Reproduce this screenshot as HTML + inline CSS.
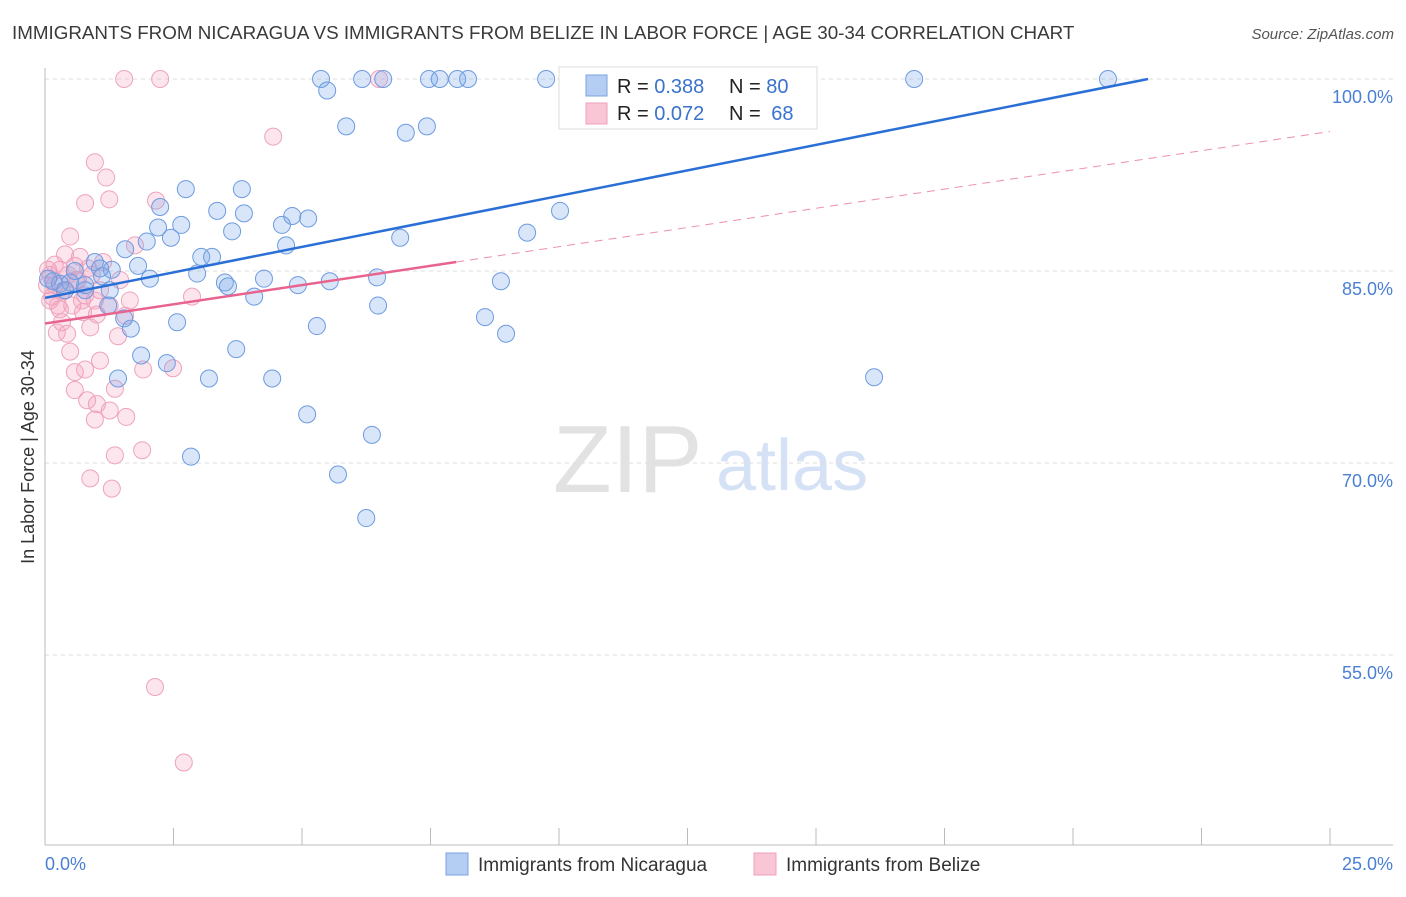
<!DOCTYPE html>
<html><head><meta charset="utf-8"><style>
body{margin:0;background:#fff;font-family:"Liberation Sans",sans-serif}
svg text{font-family:"Liberation Sans",sans-serif}
</style></head><body>
<svg id="c" width="1406" height="892" xmlns="http://www.w3.org/2000/svg">
<text x="12" y="39" font-size="18.8" fill="#3a3a3a">IMMIGRANTS FROM NICARAGUA VS IMMIGRANTS FROM BELIZE IN LABOR FORCE | AGE 30-34 CORRELATION CHART</text>
<text x="1394" y="39" font-size="15" fill="#555" text-anchor="end" font-style="italic">Source: ZipAtlas.com</text>
<text transform="translate(34,457) rotate(-90)" font-size="18" fill="#333" text-anchor="middle">In Labor Force | Age 30-34</text>
<g>
<text x="553" y="492" font-size="96" fill="#e2e2e2" font-family="Liberation Serif, serif">ZIP</text>
<text x="716" y="490" font-size="72" fill="#d5e2f5">atlas</text>
</g>
<g id="grid"></g><g id="axes"></g><g id="marks"></g>
<g>
<rect x="559" y="67" width="258" height="62" fill="#fff" stroke="#ddd"/>
<rect x="586" y="75" width="21" height="21" fill="#b4cdf2" stroke="#7aa3e0"/>
<rect x="586" y="103" width="21" height="21" fill="#f9c6d6" stroke="#eea0bb"/>
<text x="617" y="93" font-size="20" fill="#222">R = <tspan fill="#3a72cc">0.388</tspan></text>
<text x="729" y="93" font-size="20" fill="#222">N = <tspan fill="#3a72cc">80</tspan></text>
<text x="617" y="120" font-size="20" fill="#222">R = <tspan fill="#3a72cc">0.072</tspan></text>
<text x="729" y="120" font-size="20" fill="#222">N = <tspan fill="#3a72cc" dx="5">68</tspan></text>
</g>
<g>
<rect x="446" y="853" width="22" height="22" fill="#b4cdf2" stroke="#7aa3e0"/>
<text x="478" y="871" font-size="19" fill="#333">Immigrants from Nicaragua</text>
<rect x="754" y="853" width="22" height="22" fill="#f9c6d6" stroke="#eea0bb"/>
<text x="786" y="871" font-size="19" fill="#333">Immigrants from Belize</text>
</g>
</svg>
<script>
const yTicks=[100,85,70,55];
const yTickLabels=["100.0%","85.0%","70.0%","55.0%"];
const xTickLabels=["0.0%","25.0%"];
const blueX=[5.37,5.49,6.17,6.58,7.47,7.68,8.02,8.23,9.75,16.91,20.68,10.74,10.41,5.86,7.02,7.43,2.74,3.83,2.24,3.35,3.87,4.81,5.12,10.02,2.65,3.64,4.61,2.20,1.98,2.45,1.56,4.69,6.91,9.38,3.04,3.25,1.81,1.30,1.11,2.96,2.04,3.50,3.56,4.26,4.92,5.54,6.46,8.87,4.07,1.23,6.48,2.57,1.67,1.54,5.29,8.56,8.97,1.87,3.72,2.37,1.42,3.19,4.42,16.13,5.10,6.36,2.84,5.70,6.25,0.97,0.78,0.49,0.29,0.16,0.58,1.07,0.78,0.06,0.39,1.26];
const blueY=[100,99.1,100,100,100,100,100,100,100,100,100,99.8,98.5,96.3,95.8,96.3,91.4,91.4,90.0,89.7,89.5,89.3,89.1,89.7,88.6,88.1,88.6,88.4,87.3,87.6,86.7,87.0,87.6,88.0,86.1,86.1,85.4,85.1,84.6,84.8,84.4,84.1,83.8,84.4,83.9,84.2,84.5,84.2,83.0,82.3,82.3,81.0,80.5,81.3,80.7,81.4,80.1,78.4,78.9,77.8,76.6,76.6,76.6,76.7,73.8,72.2,70.5,69.1,65.7,85.7,83.9,84.1,84.0,84.2,85.0,85.2,83.5,84.4,83.5,83.5];
const pinkX=[1.54,2.24,6.50,4.44,0.97,1.19,0.78,1.25,2.16,0.49,1.75,0.68,0.58,1.13,0.84,0.29,0.10,0.19,0.39,0.72,1.01,1.56,2.86,1.65,0.33,0.88,1.42,0.49,0.23,0.43,1.07,0.78,0.58,1.91,2.49,1.36,0.58,0.82,1.01,1.26,1.58,0.97,1.36,1.89,0.88,1.30,2.14,2.70,0.06,0.14,0.64,0.91,1.07,0.25,0.04,0.45,0.53,0.74,0.33,0.19,1.26,1.46,0.39,0.78,0.10,0.60,0.29,0.97];
const pinkY=[100,100,100,95.5,93.5,92.3,90.3,90.6,90.5,87.7,87.0,86.1,85.4,85.7,85.2,85.1,84.7,83.9,83.5,82.7,81.6,81.5,83.0,82.7,81.0,80.6,79.9,78.7,80.2,80.1,78.0,77.3,77.1,77.3,77.4,75.8,75.7,74.9,74.6,74.1,73.6,73.4,70.6,71.0,68.8,68.0,52.5,46.6,85.1,83.0,84.3,84.7,83.5,82.3,83.9,84.7,82.3,81.8,83.4,85.5,82.3,84.3,86.3,83.1,82.7,84.3,82.0,82.7];
const blueTrend=[0,82.9,21.46,100];
const pinkTrend=[0,80.9,8.0,85.7,25,95.9];
const NS="http://www.w3.org/2000/svg";
const X=v=>45+v/25*1285, Y=v=>79+(100-v)*12.8;
function mk(t,a,p){const e=document.createElementNS(NS,t);for(const k in a)e.setAttribute(k,a[k]);p.appendChild(e);return e;}
const grid=document.getElementById('grid'),axes=document.getElementById('axes'),marks=document.getElementById('marks');
yTicks.forEach((v,i)=>{
 const l=mk('line',{x1:45,x2:1393,y1:Y(v),y2:Y(v),stroke:'#ddd','stroke-dasharray':'4,4'},grid);
 
 
 const t=mk('text',{x:1393,y:Y(v)+24,'font-size':18,fill:'#4a7fd4','text-anchor':'end'},axes);
 t.textContent=yTickLabels[i];
 
 
});
mk('line',{x1:45,x2:45,y1:68,y2:845,stroke:'#bbb'},axes);
mk('line',{x1:45,x2:1393,y1:845,y2:845,stroke:'#bbb'},axes);
for(let i=0;i<=10;i++){mk('line',{x1:X(i*2.5),x2:X(i*2.5),y1:828,y2:845,stroke:'#bbb'},axes);}
[[0,45,'start'],[1,1393,'end']].forEach(([i,x,a])=>{
 const t=mk('text',{x:x,y:870,'font-size':18,fill:'#4a7fd4','text-anchor':a},axes);
 t.textContent=xTickLabels[i];
 
 
});
pinkX.forEach((x,i)=>{
 const c=mk('circle',{cx:X(x),cy:Y(pinkY[i]),r:8.5,fill:'rgba(244,160,190,0.28)',stroke:'#eea3bd','stroke-width':1},marks);
 
 
});
blueX.forEach((x,i)=>{
 const c=mk('circle',{cx:X(x),cy:Y(blueY[i]),r:8.5,fill:'rgba(120,165,235,0.28)',stroke:'#6d9be0','stroke-width':1},marks);
 
 
});
const bl=mk('line',{x1:X(blueTrend[0]),y1:Y(blueTrend[1]),x2:X(blueTrend[2]),y2:Y(blueTrend[3]),stroke:'#2a6fd6','stroke-width':2.5},marks);


const pl=mk('line',{x1:X(pinkTrend[0]),y1:Y(pinkTrend[1]),x2:X(pinkTrend[2]),y2:Y(pinkTrend[3]),stroke:'#e8648e','stroke-width':2.5},marks);


const pd=mk('line',{x1:X(pinkTrend[2]),y1:Y(pinkTrend[3]),x2:X(pinkTrend[4]),y2:Y(pinkTrend[5]),stroke:'#eb8fae','stroke-width':1,'stroke-dasharray':'8,6'},marks);


</script>
</body></html>
